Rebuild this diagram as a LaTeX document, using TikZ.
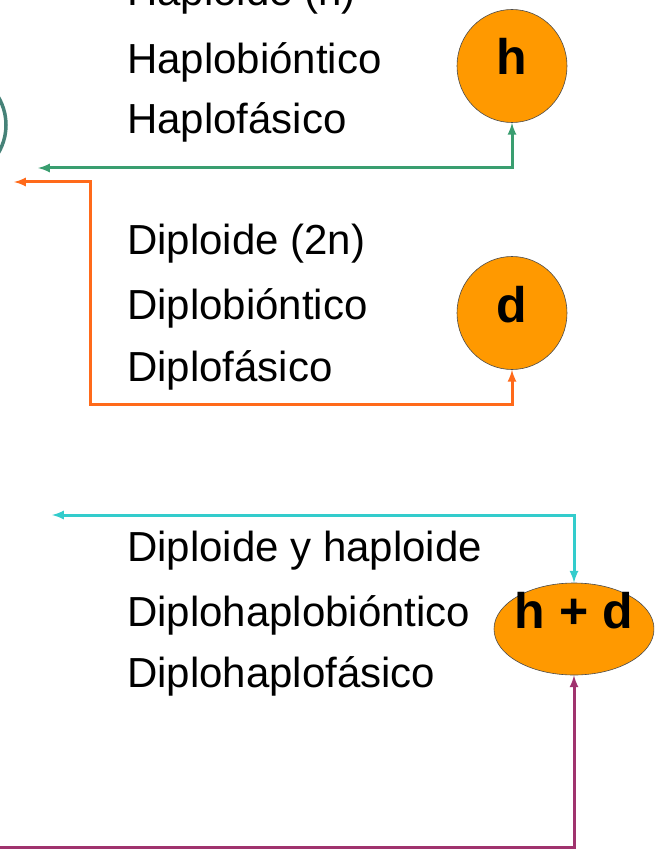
\documentclass[tikz,border=0pt]{standalone}
\usepackage{fontspec}
\setmainfont{Liberation Sans}
\usetikzlibrary{shapes,arrows}
\usepackage{xcolor}

\definecolor{faseorange}{RGB}{255,153,0}
\definecolor{lgreen}{RGB}{58,158,112}
\definecolor{lorange}{RGB}{255,106,26}
\definecolor{lcyan}{RGB}{51,204,204}
\definecolor{lpurple}{RGB}{160,51,110}
\definecolor{lteal}{RGB}{70,130,120}

\tikzset{
	fase/.style={ellipse, draw=black!70, line width=0.6pt, fill=faseorange, inner sep=0pt},
	fasetxt/.style={inner sep=0pt, font=\fontsize{50}{50}\selectfont\bfseries},
	txt/.style={anchor=base west, inner sep=0pt, font=\fontsize{42}{42}\selectfont},
	cycle/.style={line width=3pt, >=latex}
}

\begin{document}
\begin{tikzpicture}[x=1pt,y=-1pt]
\useasboundingbox(0,0)rectangle(654,850);
\clip(0,0)rectangle(654,850);

% fases
\node[fase, minimum width=110pt, minimum height=113pt](h) at (512,66){};
\node[fase, minimum width=110pt, minimum height=113pt](d) at (512,313){};
\node[fase, minimum width=160pt, minimum height=92pt](hd) at (574,629){};
\node[fasetxt](ht) at ([yshift=10pt]h.center){h};
\node[fasetxt](dt) at ([yshift=8pt]d.center){d};
\node[fasetxt](hdt) at ([yshift=18pt]hd.center){h + d};

% textos
\node[txt](hap1) at (127,6){Haploide (n)};
\node[txt](hap2) at (127,74){Haplobióntico};
\node[txt](hap3) at (127,134){Haplofásico};
\node[txt](dip1) at (127,254){Diploide (2n)};
\node[txt](dip2) at (127,319){Diplobióntico};
\node[txt](dip3) at (127,381){Diplofásico};
\node[txt](dh1) at (127,561){Diploide y haploide};
\node[txt](dh2) at (127,626){Diplohaplobióntico};
\node[txt](dh3) at (127,687){Diplohaplofásico};

% ciclos
\coordinate(gl) at (38,168);
\coordinate(ol) at (14,182);
\coordinate(ob) at (90,404);
\coordinate(cl) at (52,515);
\coordinate(pl) at (-10,847);
\draw[cycle, lgreen, <->](gl)-|(h.south);
\draw[cycle, lorange, <->](ol)-|(ob)-|(d.south);
\draw[cycle, lcyan, <->](cl)-|(hd.north);
\draw[cycle, lpurple, ->](pl)-|(hd.south);

\draw[lteal, line width=3.5pt](-49,125)circle(55);
\end{tikzpicture}
\end{document}
